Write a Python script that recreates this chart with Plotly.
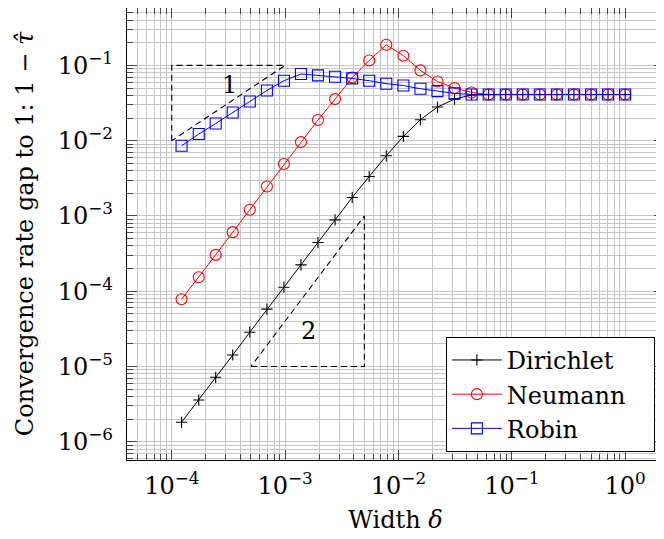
import plotly.graph_objects as go
import math

# ---- data ----
width_delta = [1.22e-4, 1.73e-4, 2.44e-4, 3.45e-4, 4.88e-4, 6.91e-4, 9.77e-4,
               1.38e-3, 1.95e-3, 2.76e-3, 3.91e-3, 5.52e-3, 7.81e-3, 1.105e-2,
               1.563e-2, 2.21e-2, 3.125e-2, 4.42e-2, 6.25e-2, 8.84e-2, 0.125,
               0.1768, 0.25, 0.3536, 0.5, 0.7071, 1.0]

dirichlet = [1.81e-6, 3.58e-6, 7.18e-6, 1.42e-5, 2.85e-5, 5.77e-5, 1.13e-4,
             2.24e-4, 4.43e-4, 8.87e-4, 1.76e-3, 3.34e-3, 6.30e-3, 1.14e-2,
             1.90e-2, 2.80e-2, 3.57e-2, 4.05e-2, 0.0411, 0.0411, 0.0411,
             0.0411, 0.0411, 0.0411, 0.0411, 0.0411, 0.0411]

neumann = [7.8e-5, 1.53e-4, 3.04e-4, 6.09e-4, 1.21e-3, 2.46e-3, 4.89e-3,
           9.58e-3, 1.88e-2, 3.57e-2, 6.9e-2, 0.1165, 0.188, 0.1345,
           0.0859, 0.0612, 0.0500, 0.0437, 0.0411, 0.0411, 0.0411,
           0.0411, 0.0411, 0.0411, 0.0411, 0.0411, 0.0411]

robin = [0.00855, 0.01225, 0.0169, 0.0237, 0.0332, 0.0465, 0.0626,
         0.0768, 0.0737, 0.0707, 0.0672, 0.0626, 0.0572, 0.0540,
         0.0490, 0.0456, 0.0425, 0.0411, 0.0411, 0.0411, 0.0411,
         0.0411, 0.0411, 0.0411, 0.0411, 0.0411, 0.0411]

series_names = ["Dirichlet", "Neumann", "Robin"]

# slope reference triangles
tri1_x = [1e-4, 1e-4, 1e-3, 1e-4]
tri1_y = [1e-2, 1e-1, 1e-1, 1e-2]
tri2_x = [5e-4, 5e-3, 5e-3, 5e-4]
tri2_y = [1e-5, 1e-5, 1e-3, 1e-5]
slope_labels = ["1", "2"]

x_tick_vals = [1e-4, 1e-3, 1e-2, 1e-1, 1]
x_tick_text = ["10<sup>−4</sup>", "10<sup>−3</sup>", "10<sup>−2</sup>",
               "10<sup>−1</sup>", "10<sup>0</sup>"]
y_tick_vals = [1e-6, 1e-5, 1e-4, 1e-3, 1e-2, 1e-1]
y_tick_text = ["10<sup>−6</sup>", "10<sup>−5</sup>", "10<sup>−4</sup>",
               "10<sup>−3</sup>", "10<sup>−2</sup>", "10<sup>−1</sup>"]

x_minor_vals = [m * 10.0 ** e for e in range(-5, 0) for m in range(2, 10)]
y_minor_vals = [m * 10.0 ** e for e in range(-7, 0) for m in range(2, 10)]

FONT = "DejaVu Serif"
FS = 24
GRID = "#c6c6c6"
TICKC = "#444444"
PAD = "\u00a0\u00a0\u00a0"

fig = go.Figure()

fig.add_trace(go.Scatter(x=tri1_x, y=tri1_y, mode="lines", showlegend=False,
                         line=dict(color="black", width=1.1, dash="6px,4px"),
                         hoverinfo="skip"))
fig.add_trace(go.Scatter(x=tri2_x, y=tri2_y, mode="lines", showlegend=False,
                         line=dict(color="black", width=1.1, dash="6px,4px"),
                         hoverinfo="skip"))

fig.add_trace(go.Scatter(x=width_delta, y=dirichlet, name=series_names[0] + PAD,
                         mode="lines+markers",
                         line=dict(color="black", width=1),
                         marker=dict(symbol="cross-thin-open", size=8,
                                     color="black",
                                     line=dict(color="black", width=1.1))))
fig.add_trace(go.Scatter(x=width_delta, y=neumann, name=series_names[1] + PAD,
                         mode="lines+markers",
                         line=dict(color="red", width=1),
                         marker=dict(symbol="circle-open", size=11,
                                     color="red",
                                     line=dict(color="red", width=1.1))))
fig.add_trace(go.Scatter(x=width_delta, y=robin, name=series_names[2] + PAD,
                         mode="lines+markers",
                         line=dict(color="blue", width=1),
                         marker=dict(symbol="square-open", size=11,
                                     color="blue",
                                     line=dict(color="blue", width=1.1))))

fig.add_annotation(x=math.log10(3.2e-4), y=math.log10(0.055), text=slope_labels[0],
                   showarrow=False, font=dict(family=FONT, size=FS, color="black"))
fig.add_annotation(x=math.log10(1.6e-3), y=math.log10(3.0e-5), text=slope_labels[1],
                   showarrow=False, font=dict(family=FONT, size=FS, color="black"))

axis_common = dict(
    type="log", showline=True, linecolor="black", linewidth=1.3,
    mirror="allticks", ticks="inside", ticklen=10, tickwidth=1, tickcolor=TICKC,
    showgrid=True, gridcolor=GRID, gridwidth=1, zeroline=False,
    tickfont=dict(family=FONT, size=FS, color="black"),
)

fig.update_xaxes(
    **axis_common,
    range=[-4.395, 0.343],
    tickmode="array", tickvals=x_tick_vals, ticktext=x_tick_text,
    ticklabelstandoff=4,
    minor=dict(tickmode="array", tickvals=x_minor_vals, ticks="inside",
               ticklen=6, tickcolor=TICKC, tickwidth=1,
               showgrid=True, gridcolor=GRID, gridwidth=1),
    title=dict(text="Width <i>δ</i>", font=dict(family=FONT, size=FS, color="black"),
               standoff=12),
)
fig.update_yaxes(
    **axis_common,
    range=[-6.243, -0.237],
    tickmode="array", tickvals=y_tick_vals, ticktext=y_tick_text,
    ticklabelstandoff=8,
    minor=dict(tickmode="array", tickvals=y_minor_vals, ticks="inside",
               ticklen=6, tickcolor=TICKC, tickwidth=1,
               showgrid=True, gridcolor=GRID, gridwidth=1),
    title=dict(text="Convergence rate gap to 1: 1 − <i>τ̂</i>",
               font=dict(family=FONT, size=FS, color="black"), standoff=17),
)

fig.update_layout(
    width=664, height=539,
    margin=dict(l=119, r=8, t=0, b=87, autoexpand=False),
    paper_bgcolor="white", plot_bgcolor="white",
    font=dict(family=FONT, size=FS, color="black"),
    legend=dict(x=0.983, y=0.018, xanchor="right", yanchor="bottom",
                bgcolor="white", bordercolor="black", borderwidth=1,
                font=dict(family=FONT, size=FS, color="black"),
                itemwidth=50, tracegroupgap=0),
    showlegend=True,
)

fig.write_html("out.html")
